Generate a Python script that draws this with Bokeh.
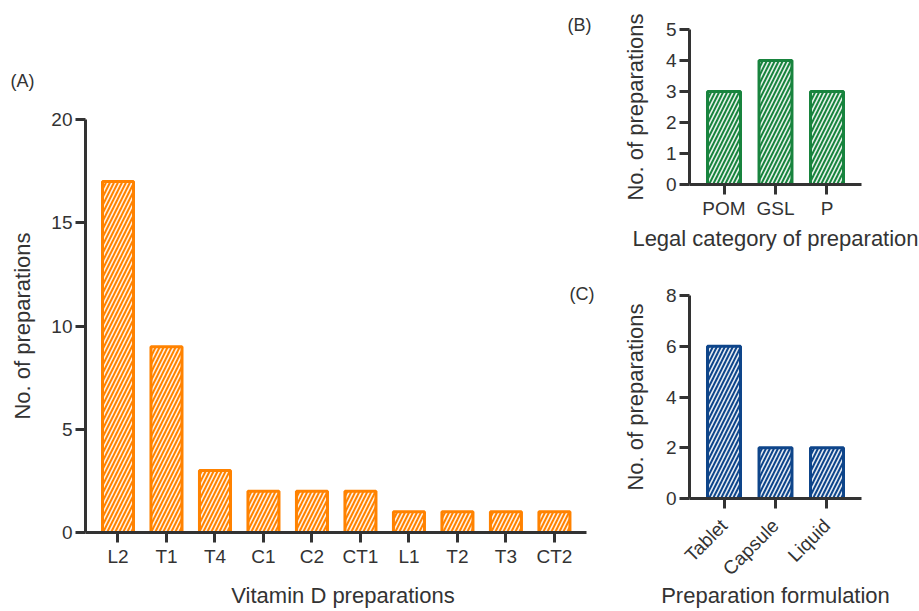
from bokeh.plotting import figure
from bokeh.models import FactorRange, Range1d, FixedTicker, Label, Title, ColumnDataSource
from bokeh.layouts import row, column
from bokeh.embed import file_html
from bokeh.resources import INLINE
import math

# ---- data ----
prep_a = ["L2", "T1", "T4", "C1", "C2", "CT1", "L1", "T2", "T3", "CT2"]
count_a = [17, 9, 3, 2, 2, 2, 1, 1, 1, 1]
ticks_a = [0, 5, 10, 15, 20]

legal_b = ["POM", "GSL", "P"]
count_b = [3, 4, 3]
ticks_b = [0, 1, 2, 3, 4, 5]

form_c = ["Tablet", "Capsule", "Liquid"]
count_c = [6, 2, 2]
ticks_c = [0, 2, 4, 6, 8]

FONT = "Liberation Sans"
INK = "#333333"
BAR_W = 0.64
HATCH = dict(hatch_pattern="/", hatch_color="white", hatch_alpha=0.9,
             hatch_scale=8, hatch_weight=1.6)


def style_axes(p, ylab_standoff, xlab_standoff, xlabel_standoff=3):
    p.xgrid.visible = False
    p.ygrid.visible = False
    p.outline_line_color = None
    p.title.text = ""
    for ax in (p.xaxis[0], p.yaxis[0]):
        ax.axis_line_width = 3
        ax.axis_line_color = INK
        ax.major_tick_line_width = 3
        ax.major_tick_line_color = INK
        ax.major_tick_out = 10
        ax.major_tick_in = 0
        ax.minor_tick_line_color = None
        ax.major_label_text_font = FONT
        ax.major_label_text_font_size = "19px"
        ax.major_label_text_color = INK
        ax.major_label_standoff = 3
        ax.axis_label_text_font = FONT
        ax.axis_label_text_font_size = "22px"
        ax.axis_label_text_font_style = "normal"
        ax.axis_label_text_color = INK
    p.xaxis.major_label_standoff = xlabel_standoff
    p.yaxis.axis_label = "No. of preparations"
    p.yaxis.axis_label_standoff = ylab_standoff
    p.xaxis.axis_label_standoff = xlab_standoff


# ---- panel A (numeric positions, labelled with the categories) ----
idx_a = list(range(len(prep_a)))
pA = figure(x_range=Range1d(-0.67, 9.95), y_range=Range1d(0, 20),
            width=600, height=611, output_backend="svg", toolbar_location=None,
            min_border_left=85, min_border_right=0, min_border_top=119,
            min_border_bottom=79)
pA.vbar(x="x", top="top", bottom=0, width=BAR_W,
        source=ColumnDataSource(dict(x=idx_a, top=count_a)),
        fill_color="#FF8200", line_color="#FF8200", line_width=3, **HATCH)
style_axes(pA, 13, 13)
pA.yaxis.ticker = FixedTicker(ticks=ticks_a)
pA.xaxis.ticker = FixedTicker(ticks=idx_a)
pA.xaxis.major_label_overrides = {i: name for i, name in zip(idx_a, prep_a)}
pA.xaxis.bounds = (-0.67, 9.67)
pA.xaxis.axis_label = "Vitamin D preparations"

title_kw = dict(text_font=FONT, text_font_size="18px", text_color=INK,
                text_font_style="normal", align="left")
pA.add_layout(Title(text="(A)", offset=-75, standoff=57, **title_kw), "above")
pA.add_layout(Title(text="(B)", offset=482, standoff=11, **title_kw), "above")
pA.add_layout(Label(x=484, y=239, x_units="screen", y_units="screen", text="(C)",
                    text_font=FONT, text_font_size="18px", text_color=INK,
                    text_align="left", text_baseline="alphabetic"))


# ---- panels B and C ----
def cat_panel(factors, counts, ticks, ymax, color, xtitle, w, h, bl, br, bt, bb,
              ylab_standoff, xlab_standoff, xlabel_standoff=3, orient=None):
    p = figure(x_range=FactorRange(factors=factors, range_padding=0.34 / len(factors)),
               y_range=Range1d(0, ymax), width=w, height=h,
               output_backend="svg", toolbar_location=None,
               min_border_left=bl, min_border_right=br,
               min_border_top=bt, min_border_bottom=bb)
    p.vbar(x="x", top="top", bottom=0, width=BAR_W,
           source=ColumnDataSource(dict(x=factors, top=counts)),
           fill_color=color, line_color=color, line_width=3, **HATCH)
    style_axes(p, ylab_standoff, xlab_standoff, xlabel_standoff)
    p.yaxis.ticker = FixedTicker(ticks=ticks)
    p.xaxis.axis_label = xtitle
    if orient is not None:
        p.xaxis.major_label_orientation = orient
    return p


pB = cat_panel(legal_b, count_b, ticks_b, 5, "#18843E", "Legal category of preparation",
               319, 258, 89, 57, 29, 74, 15, 4)
pC = cat_panel(form_c, count_c, ticks_c, 8, "#0E458A", "Preparation formulation",
               319, 353, 87, 58, 37, 113, 15, -7, xlabel_standoff=14, orient=math.pi / 4)

layout = row(pA, column(pB, pC))
open("out.html", "w").write(file_html(layout, INLINE))
